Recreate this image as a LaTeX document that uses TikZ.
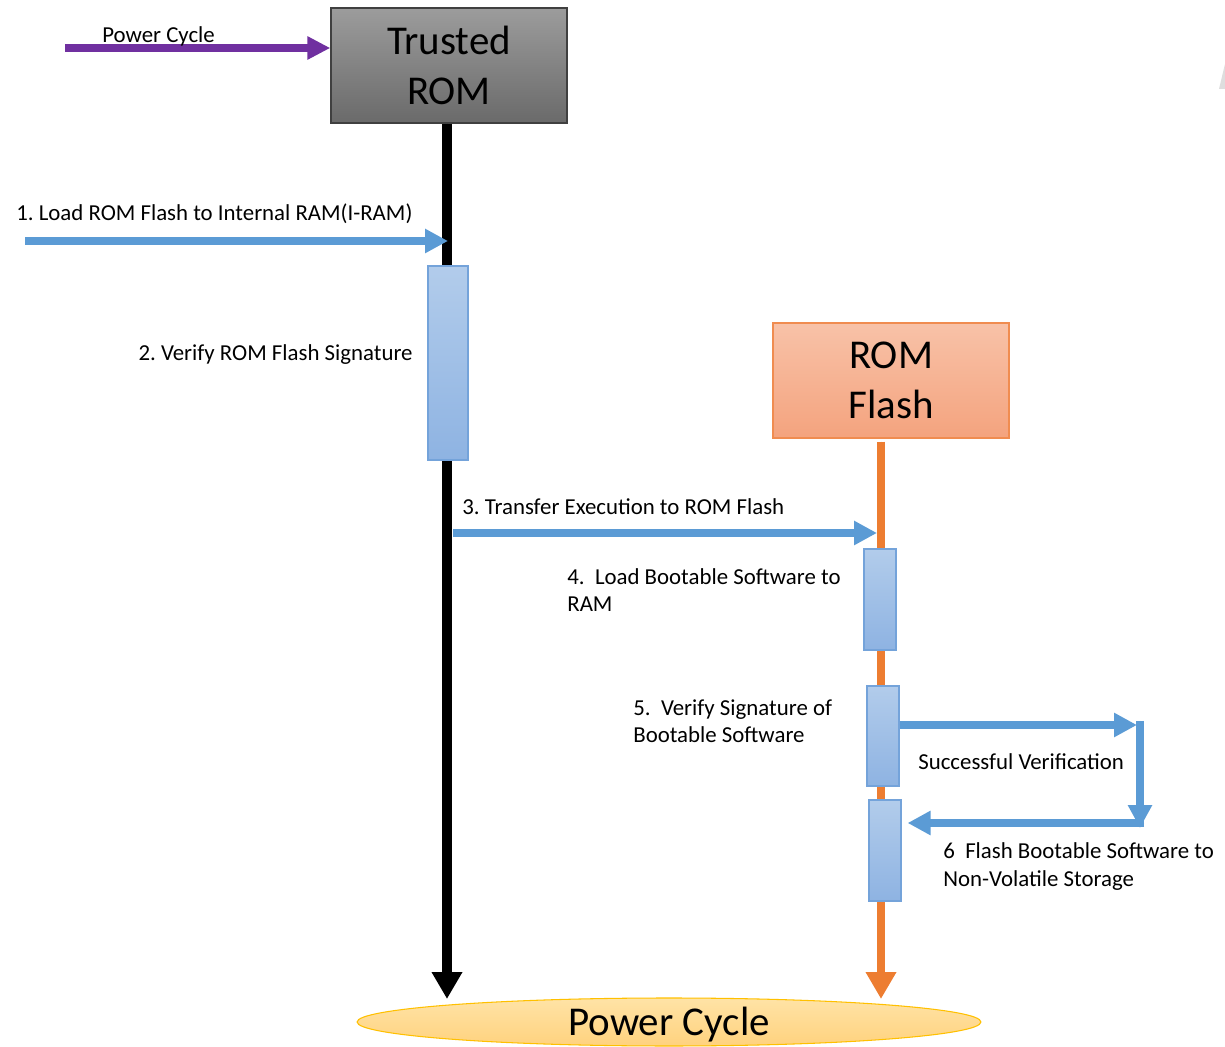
\documentclass[tikz,border=0pt]{standalone}
\usepackage{fontspec}
\setmainfont{Carlito}
\frenchspacing
\usetikzlibrary{arrows.meta,shapes.geometric}

\definecolor{msgblue}{HTML}{5B9BD5}
\definecolor{pwrpurple}{HTML}{7030A0}
\definecolor{flashorange}{HTML}{ED7D31}
\definecolor{acttop}{HTML}{B2CCEB}
\definecolor{actbot}{HTML}{8EB3E2}
\definecolor{actedge}{HTML}{74A3DA}
\definecolor{romtop}{HTML}{9C9C9C}
\definecolor{rombot}{HTML}{6A6A6A}
\definecolor{flashtop}{HTML}{F8C2A8}
\definecolor{flashbot}{HTML}{F4A37E}
\definecolor{flashedge}{HTML}{F08C50}
\definecolor{pctop}{HTML}{FFE3A6}
\definecolor{pcbot}{HTML}{FFD27E}
\definecolor{pcedge}{HTML}{FFC000}

\tikzset{
  lbl/.style={font=\fontsize{13}{15.9}\selectfont, inner sep=0pt, align=left},
  bigtext/.style={font=\fontsize{23.3}{28.3}\selectfont, align=center},
  hostbox/.style={rectangle, minimum width=4.72cm, minimum height=2.3cm, inner sep=0pt, line width=0.8pt},
  actbox/.style={rectangle, draw=actedge, line width=0.7pt, top color=acttop, bottom color=actbot,
                 minimum width=0.64cm, minimum height=2.02cm, inner sep=0pt},
  msg/.style={draw=msgblue, fill=msgblue, line width=4.4pt, -{Triangle[length=0.46cm,width=0.46cm]}},
  lifeline/.style={-{Triangle[length=0.54cm,width=0.58cm]}},
}

\begin{document}
\begin{tikzpicture}[x=0.02cm, y=-0.02cm]
\useasboundingbox (0,0) rectangle (1225,1047);

% participants
\node[hostbox, bigtext, draw=black!75, top color=romtop, bottom color=rombot]
  (trom) at (449,65.5) {Trusted\\ROM};
\node[hostbox, bigtext, draw=flashedge, top color=flashtop, bottom color=flashbot]
  (rflash) at (891,380.5) {ROM\\Flash};
\node[ellipse, draw=pcedge, line width=0.6pt, top color=pctop, bottom color=pcbot,
      minimum width=12.48cm, minimum height=0.96cm, inner sep=0pt,
      font=\fontsize{23.3}{28.3}\selectfont, text height=15pt, text depth=0pt]
  (pcyc) at (669,1022) {Power Cycle};

% lifelines
\coordinate (blackend) at (447,999);
\coordinate (orangeend) at (881,999);
\draw[lifeline, line width=5.6pt, draw=black, fill=black] (trom.south -| blackend) -- (blackend);
\draw[lifeline, line width=5pt, draw=flashorange, fill=flashorange, shorten <=0.06cm]
  (rflash.south -| orangeend) -- (orangeend);

% activation bars
\node[actbox, minimum width=0.8cm, minimum height=3.88cm] (act1) at (448,363) {};
\node[actbox] (act4) at (880,599.5) {};
\node[actbox, minimum height=2cm] (act5) at (883,736) {};
\node[actbox] (act6) at (885,850.5) {};

% power-on trigger
\coordinate (pwrstart) at (65,48);
\draw[draw=pwrpurple, fill=pwrpurple, line width=4pt, -{Triangle[length=0.46cm,width=0.44cm]}]
  (pwrstart) -- (pwrstart -| trom.west);
\node[lbl, anchor=base west] (pwrlbl) at (102,43) {Power Cycle};

% step 1
\coordinate (m1start) at (25,241);
\coordinate (m1end) at (448,241);
\draw[msg] (m1start) -- (m1end);
\node[lbl, anchor=base west] (lbl1) at (16,221) {1. Load ROM Flash to Internal RAM(I-RAM)};

% step 2
\node[lbl, anchor=base east] (lbl2) at (413,361) {2. Verify ROM Flash Signature};

% step 3
\coordinate (m3start) at (453,533);
\coordinate (m3end) at (877,533);
\draw[msg] (m3start) -- (m3end);
\node[lbl, anchor=base west] (lbl3) at (462,515) {3. Transfer Execution to ROM Flash};

% step 4 (base anchor sits on the last line)
\node[lbl, anchor=base west] (lbl4) at (567,612) {4.\ \ Load Bootable Software to\\RAM};

% step 5
\node[lbl, anchor=base west] (lbl5) at (633,743) {5.\ \ Verify Signature of\\Bootable Software};

% verification loop
\coordinate (loopa) at (1137,725);
\coordinate (loopb) at (1140,721);
\coordinate (loopc) at (1140,828);
\coordinate (loopd) at (1144,823);
\draw[msg] (act5.east |- loopa) -- (loopa);
\draw[msg] (loopb) -- (loopc);
\draw[msg, shorten >=0.12cm] (loopd) -- (act6.east |- loopd);
\node[lbl, anchor=base west] (lblok) at (918,769) {Successful Verification};

% step 6
\node[lbl, anchor=base west] (lbl6) at (943,886) {6\ \ Flash Bootable Software to\\Non-Volatile Storage};

% edge sliver
\fill[black!13] (1219,89) -- (1225,64) -- (1225,89) -- cycle;
\end{tikzpicture}
\end{document}
